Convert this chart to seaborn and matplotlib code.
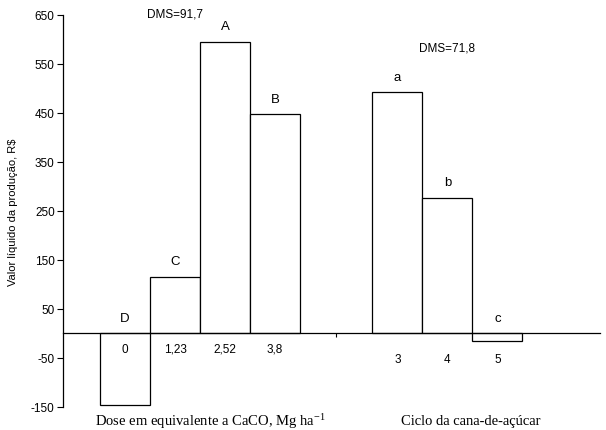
import matplotlib
matplotlib.use("Agg")
import matplotlib.pyplot as plt
import seaborn as sns
import pandas as pd

# Data
categories = ["0", "1,23", "2,52", "3,8", "3", "4", "5"]
values = [-145, 115, 595, 447, 492, 277, -16]
letters = ["D", "C", "A", "B", "a", "b", "c"]
groups = ["dose", "dose", "dose", "dose", "ciclo", "ciclo", "ciclo"]
dms_texts = ["DMS=91,7", "DMS=71,8"]
yticks = [-150, -50, 50, 150, 250, 350, 450, 550, 650]

# Layout (bar positions on the x scale)
positions = [0, 1, 2, 3, 5.45, 6.45, 7.45]

df = pd.DataFrame({"pos": positions, "valor": values, "cat": categories,
                   "letra": letters, "grupo": groups})

sns.set_theme(style="white")
plt.rcParams["font.family"] = ["Liberation Sans", "DejaVu Sans"]
plt.rcParams["mathtext.fontset"] = "stix"
plt.rcParams["text.color"] = "black"
plt.rcParams["axes.labelcolor"] = "black"
plt.rcParams["xtick.color"] = "black"
plt.rcParams["ytick.color"] = "black"

fig = plt.figure(figsize=(6.06, 4.31), dpi=100)
ax = fig.add_axes([0.104, 0.0534, 0.886, 0.9095])

sns.barplot(data=df, x="pos", y="valor", native_scale=True, width=1.0,
            color="white", edgecolor="black", linewidth=0.9, ax=ax,
            errorbar=None, saturation=1)

ax.set_xlim(-1.24, 9.5)
ax.set_ylim(-150, 650)
ax.set_yticks(yticks)
ax.set_yticklabels([str(t) for t in yticks], fontsize=8.5)
ax.tick_params(axis="y", direction="out", length=4, width=0.8, color="black", pad=2, left=True)

for s in ["top", "right"]:
    ax.spines[s].set_visible(False)
ax.spines["left"].set_color("black")
ax.spines["left"].set_linewidth(0.9)
ax.spines["bottom"].set_position(("data", 0))
ax.spines["bottom"].set_color("black")
ax.spines["bottom"].set_linewidth(0.9)
ax.set_xticks([4.22])
ax.set_xticklabels([""])
ax.tick_params(axis="x", direction="out", length=3, width=0.8, color="black", bottom=True)
ax.set_xlabel("")
ax.set_ylabel("Valor líquido da produção, R$", fontsize=8, labelpad=9)

for p, v, lt, c, g in zip(positions, values, letters, categories, groups):
    ax.text(p, max(v, 0) + 32, lt, ha="center", va="center", fontsize=9.5)
    ax.text(p, -31 if g == "dose" else -53, c, ha="center", va="center", fontsize=8.5)

ax.text(1.0, 653, dms_texts[0], ha="center", va="center", fontsize=8.5)
ax.text(6.45, 584, dms_texts[1], ha="center", va="center", fontsize=8.5)

fig.text(0.347, 0.022, r"Dose em equivalente a CaCO, Mg ha$^{\mathdefault{-1}}$",
         ha="center", va="center", fontsize=10.5, family=["Liberation Serif"])
fig.text(0.776, 0.022, "Ciclo da cana-de-açúcar", ha="center", va="center",
         fontsize=10.5, family=["Liberation Serif"])

fig.savefig("out.png", dpi=100)
